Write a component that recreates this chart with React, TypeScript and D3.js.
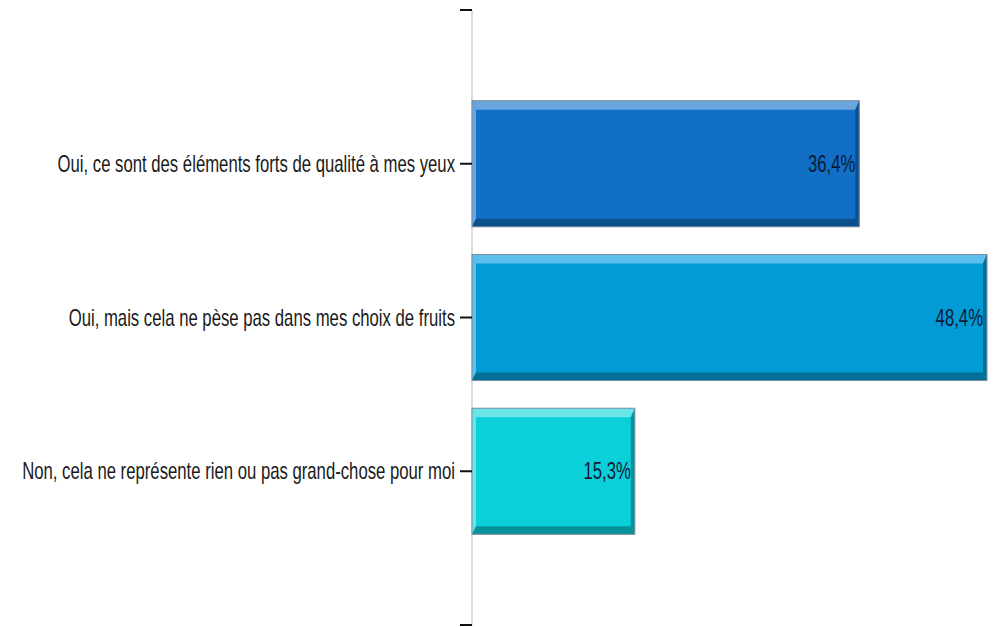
import React from "react";
import * as d3 from "d3";

const categories = [
  "Oui, ce sont des éléments forts de qualité à mes yeux",
  "Oui, mais cela ne pèse pas dans mes choix de fruits",
  "Non, cela ne représente rien ou pas grand-chose pour moi",
];
const values = [36.4, 48.4, 15.3];
const valueLabels = ["36,4%", "48,4%", "15,3%"];
const mainColors = ["#1170c6", "#039bd6", "#0bcfd9"];
const lightColors = ["#6aa6dd", "#5cc0ea", "#6ae5ea"];
const darkColors = ["#0c4f8e", "#027096", "#08929a"];

const W = 1000;
const H = 627;
const axisX = 472;
const top = 10;
const bottom = 625;

export default function App() {
  const domain = ["__top", ...categories, "__bottom"];
  const y = d3.scalePoint<string>().domain(domain).range([top, bottom]);
  const step = y.step();
  const barH = step * 0.82;
  const x = d3.scaleLinear().domain([0, 48.4]).range([axisX, 987]);
  const font = "'Liberation Sans', Arial, sans-serif";
  const fs = 23;
  const sx = 16.72 / fs;

  return (
    <svg width={W} height={H} style={{ position: "absolute", left: 0, top: 0, background: "#fff" }}>
      <line x1={axisX} x2={axisX} y1={top} y2={bottom} stroke="#cfcfcf" strokeWidth={1.5} />
      <line x1={460} x2={axisX} y1={top} y2={top} stroke="#111" strokeWidth={2} />
      <line x1={460} x2={axisX} y1={bottom} y2={bottom} stroke="#111" strokeWidth={2} />
      {categories.map((c, i) => {
        const cy = y(c) as number;
        const y0 = cy - barH / 2;
        const x0 = x(0);
        const x1 = x(values[i]);
        const y1 = y0 + barH;
        const bt = 9, bb = 8, bl = 4, br = 4;
        return (
          <g key={c}>
            <rect x={x0} y={y0} width={x1 - x0} height={barH} fill={mainColors[i]} />
            <polygon points={`${x0},${y0} ${x1},${y0} ${x1 - br},${y0 + bt} ${x0 + bl},${y0 + bt}`} fill={lightColors[i]} />
            <polygon points={`${x0},${y0} ${x0 + bl},${y0 + bt} ${x0 + bl},${y1 - bb} ${x0},${y1}`} fill={lightColors[i]} />
            <polygon points={`${x1},${y0} ${x1},${y1} ${x1 - br},${y1 - bb} ${x1 - br},${y0 + bt}`} fill={darkColors[i]} />
            <polygon points={`${x0},${y1} ${x0 + bl},${y1 - bb} ${x1 - br},${y1 - bb} ${x1},${y1}`} fill={darkColors[i]} />
            <rect x={x0} y={y0} width={x1 - x0} height={barH} fill="none" stroke="#7d8ea0" strokeWidth={1} />
            <line x1={460} x2={axisX} y1={cy} y2={cy} stroke="#111" strokeWidth={2} />
            <text
              transform={`translate(455,${cy}) scale(${sx},1)`}
              textAnchor="end"
              dominantBaseline="central"
              fontFamily={font}
              fontSize={fs}
              fill="#1a1a1a"
            >
              {c}
            </text>
            <text
              transform={`translate(${x1 - 4},${cy}) scale(${sx},1)`}
              textAnchor="end"
              dominantBaseline="central"
              fontFamily={font}
              fontSize={fs}
              fill="#0d1a33"
            >
              {valueLabels[i]}
            </text>
          </g>
        );
      })}
    </svg>
  );
}
